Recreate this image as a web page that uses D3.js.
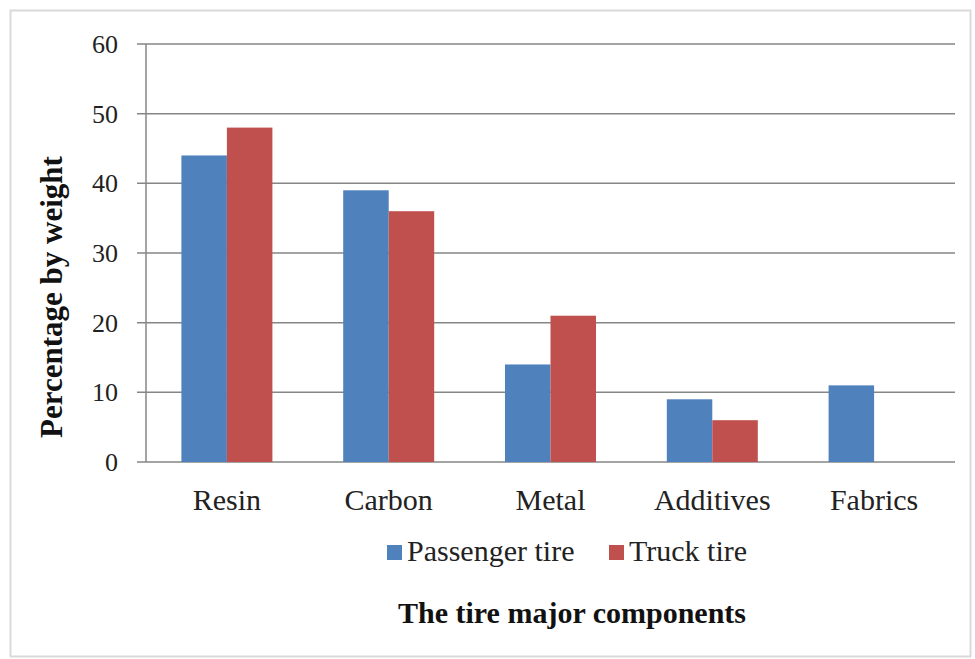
<!DOCTYPE html>
<html><head><meta charset="utf-8">
<script src="https://cdn.jsdelivr.net/npm/d3@7"></script>
<style>body{margin:0;background:#fff}svg{display:block}</style>
</head><body>
<script>
const categories = ["Resin", "Carbon", "Metal", "Additives", "Fabrics"];
const seriesNames = ["Passenger tire", "Truck tire"];
const passenger = [44, 39, 14, 9, 11];
const truck = [48, 36, 21, 6, 0];
const yTicks = [0, 10, 20, 30, 40, 50, 60];
const colors = ["#4F81BD", "#C0504D"];

const W = 975, H = 659;
const svg = d3.select("body").append("svg").attr("width", W).attr("height", H);
svg.append("rect").attr("x", 10.5).attr("y", 10.5).attr("width", 960).attr("height", 646)
  .attr("fill", "#fff").attr("stroke", "#d9d9d9").attr("stroke-width", 2);

const L = 146, R = 955, T = 44, B = 462;
const x = d3.scaleBand().domain(categories).range([L, R]).paddingInner(0).paddingOuter(0);
const y = d3.scaleLinear().domain([0, 60]).range([B, T]);
const inner = d3.scaleBand().domain(seriesNames).range([0, 91]);
const gap = (x.bandwidth() - 91) / 2;

// gridlines
svg.append("g").selectAll("line").data(yTicks).join("line")
  .attr("x1", L - 9).attr("x2", R).attr("y1", d => y(d)).attr("y2", d => y(d))
  .attr("stroke", "#868686").attr("stroke-width", 1.5);
// y axis line
svg.append("line").attr("x1", L).attr("x2", L).attr("y1", T).attr("y2", B)
  .attr("stroke", "#868686").attr("stroke-width", 1.5);

const font = "'Liberation Serif','Times New Roman',serif";
svg.append("g").selectAll("text").data(yTicks).join("text")
  .attr("x", 118).attr("y", d => y(d)).attr("dy", "0.35em").attr("text-anchor", "end")
  .attr("font-family", font).attr("font-size", 26).attr("fill", "#222").text(d => d);

const data = categories.map((c, i) => ({c, vals: [passenger[i], truck[i]]}));
const g = svg.append("g").selectAll("g").data(data).join("g")
  .attr("transform", d => `translate(${x(d.c) + gap},0)`);
g.selectAll("rect").data(d => d.vals.map((v, j) => ({v, s: seriesNames[j], j})).filter(e => e.v > 0)).join("rect")
  .attr("x", e => inner(e.s)).attr("width", inner.bandwidth())
  .attr("y", e => y(e.v)).attr("height", e => y(0) - y(e.v))
  .attr("fill", e => colors[e.j]);

svg.append("g").selectAll("text").data(categories).join("text")
  .attr("x", d => x(d) + x.bandwidth() / 2).attr("y", 510).attr("text-anchor", "middle")
  .attr("font-family", font).attr("font-size", 30).attr("fill", "#222").text(d => d);

svg.append("text").attr("transform", "translate(62,297) rotate(-90)").attr("text-anchor", "middle")
  .attr("font-family", font).attr("font-size", 31).attr("font-weight", "bold").attr("fill", "#111")
  .text("Percentage by weight");

// legend
const legX = [387, 609];
const leg = svg.append("g").selectAll("g").data(seriesNames).join("g")
  .attr("transform", (d, i) => `translate(${legX[i]},545)`);
leg.append("rect").attr("width", 15).attr("height", 15).attr("fill", (d, i) => colors[i]);
leg.append("text").attr("x", 20).attr("y", 16).attr("font-family", font).attr("font-size", 30)
  .attr("fill", "#222").text(d => d);

svg.append("text").attr("x", 572).attr("y", 623).attr("text-anchor", "middle")
  .attr("font-family", font).attr("font-size", 30).attr("font-weight", "bold").attr("fill", "#111")
  .text("The tire major components");
</script>
</body></html>
